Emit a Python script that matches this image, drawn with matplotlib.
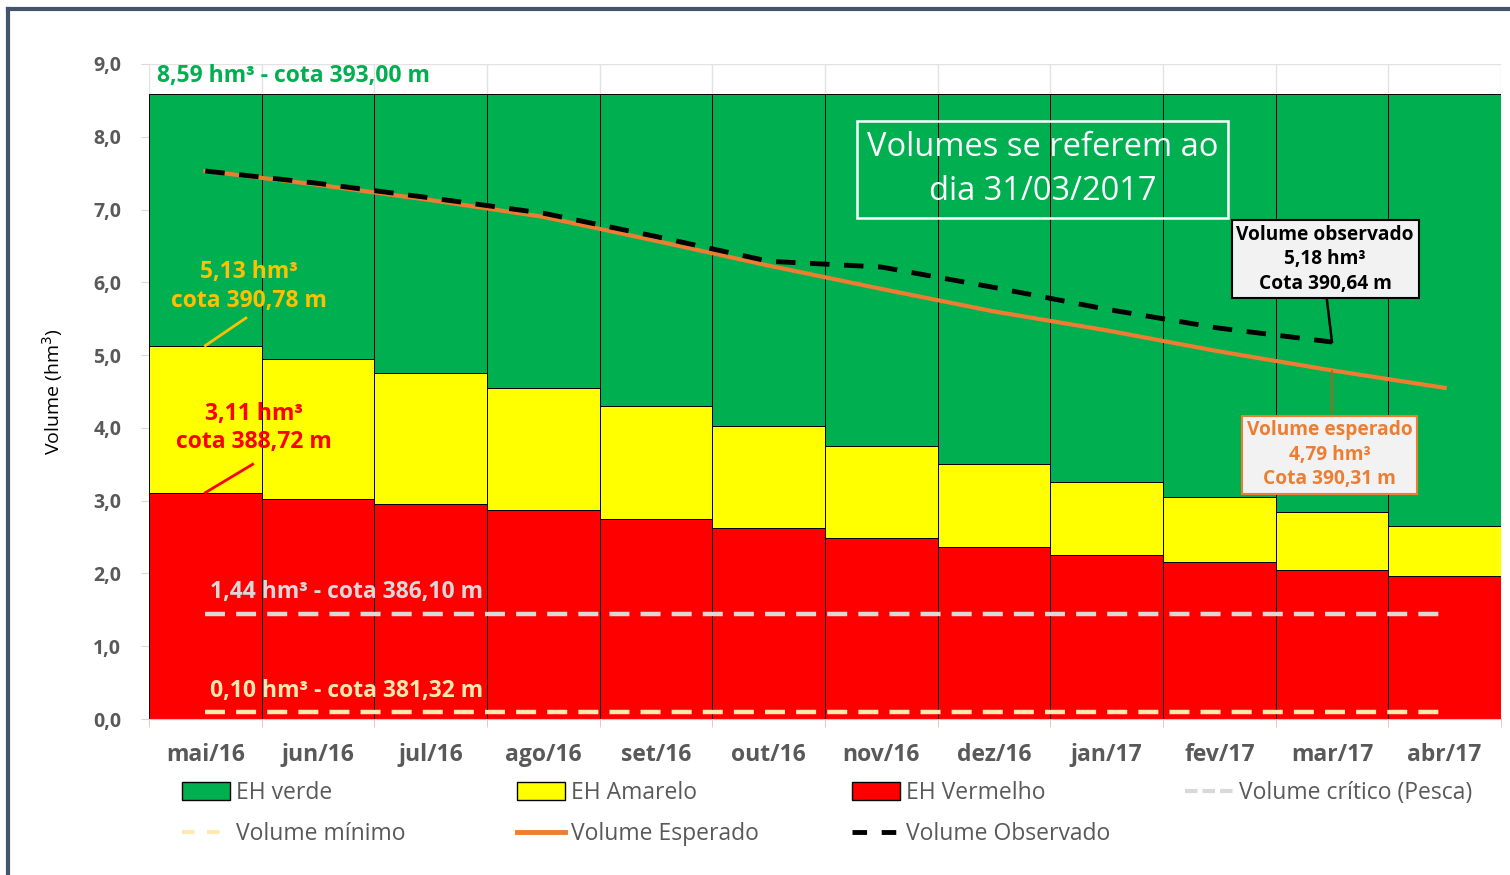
import matplotlib
matplotlib.use("Agg")
import matplotlib.pyplot as plt
from matplotlib.patches import Patch
from matplotlib.lines import Line2D
import numpy as np

meses = ["mai/16", "jun/16", "jul/16", "ago/16", "set/16", "out/16",
         "nov/16", "dez/16", "jan/17", "fev/17", "mar/17", "abr/17"]
lim_vermelho = [3.11, 3.02, 2.95, 2.87, 2.75, 2.62, 2.49, 2.36, 2.25, 2.16, 2.05, 1.96]
lim_amarelo = [5.13, 4.95, 4.75, 4.55, 4.30, 4.02, 3.75, 3.50, 3.26, 3.05, 2.84, 2.65]
lim_verde = [8.59] * 12
vol_esperado = [7.53, 7.34, 7.13, 6.90, 6.57, 6.23, 5.91, 5.60, 5.34, 5.05, 4.79, 4.55]
vol_observado = [7.53, 7.36, 7.16, 6.95, 6.63, 6.29, 6.21, 5.93, 5.63, 5.37, 5.18, np.nan]
vol_critico = [1.44] * 12
vol_minimo = [0.10] * 12
yticks = [0, 1, 2, 3, 4, 5, 6, 7, 8, 9]

plt.rcParams['font.family'] = ['Open Sans', 'DejaVu Sans']

C_GREEN = "#00B050"
C_YELLOW = "#FFFF00"
C_RED = "#FF0000"
C_ORANGE = "#ED7D31"
C_GOLD = "#FFC000"
C_CRIT = "#D9D9D9"
C_MIN = "#FFE9B0"
C_TXT = "#595959"

fig = plt.figure(figsize=(15.10, 8.75), dpi=100)
ax = fig.add_axes([149/1510, 1-719/875, (1501-149)/1510, (719-64)/875])

x = np.arange(len(meses))
red = np.array(lim_vermelho)
yel = np.array(lim_amarelo)
grn = np.array(lim_verde)

ax.bar(x, red, width=1.0, color=C_RED, edgecolor="black", linewidth=0.7, zorder=2)
ax.bar(x, yel - red, bottom=red, width=1.0, color=C_YELLOW, edgecolor="black", linewidth=0.7, zorder=2)
ax.bar(x, grn - yel, bottom=yel, width=1.0, color=C_GREEN, edgecolor="black", linewidth=0.7, zorder=2)

ax.plot(x, vol_critico, color=C_CRIT, lw=3.2, dashes=(4.5, 2.5), zorder=3)
ax.plot(x, vol_minimo, color=C_MIN, lw=3.2, dashes=(4.5, 2.5), zorder=3)
ax.plot(x, vol_esperado, color=C_ORANGE, lw=3.0, zorder=4)
ax.plot(x, vol_observado, color="black", lw=3.5, dashes=(4, 3), zorder=5)

ax.set_xlim(-0.5, 11.5)
ax.set_ylim(0, 9)
ax.set_yticks(yticks)
ax.set_yticklabels([f"{v:.1f}".replace(".", ",") for v in yticks],
                   fontsize=14, fontweight="bold", color=C_TXT)
ax.set_xticks(x)
ax.set_xticklabels(meses, fontsize=16.5, fontweight="bold", color=C_TXT)
ax.set_xticks(np.arange(-0.5, 12, 1), minor=True)
ax.tick_params(axis="x", which="major", length=0, pad=17)
ax.tick_params(axis="x", which="minor", length=6, color="#F4B6B6")
ax.tick_params(axis="y", length=6, color="#D9D9D9", pad=14)
ax.grid(axis="y", color="#E3E3E3", lw=1, zorder=0)
ax.grid(axis="x", which="minor", color="#E3E3E3", lw=1, zorder=0)
ax.set_axisbelow(True)
for s in ["top", "right", "left"]:
    ax.spines[s].set_visible(False)
ax.spines["bottom"].set_color("#F4B6B6")

ax.set_ylabel("Volume (hm$^3$)", fontsize=14, color="black", labelpad=20)

# Annotations
FS_A = 16.5
ax.text(-0.43, 8.84, "8,59 hm³ - cota 393,00 m", color=C_GREEN, fontsize=FS_A,
        fontweight="bold", ha="left", va="center", zorder=6)
ax.text(0.39, 5.94, "5,13 hm³\ncota 390,78 m", color=C_GOLD, fontsize=FS_A,
        fontweight="bold", ha="center", va="center", linespacing=1.25, zorder=6)
ax.plot([0.36, 0.0], [5.51, 5.13], color=C_GOLD, lw=2, zorder=6)
ax.text(0.43, 4.00, "3,11 hm³\ncota 388,72 m", color=C_RED, fontsize=FS_A,
        fontweight="bold", ha="center", va="center", linespacing=1.25, zorder=6)
ax.plot([0.42, 0.0], [3.50, 3.11], color=C_RED, lw=2, zorder=6)
ax.text(0.04, 1.745, "1,44 hm³ - cota 386,10 m", color=C_CRIT, fontsize=FS_A,
        fontweight="bold", ha="left", va="center", zorder=6)
ax.text(0.04, 0.385, "0,10 hm³ - cota 381,32 m", color=C_MIN, fontsize=FS_A,
        fontweight="bold", ha="left", va="center", zorder=6)

ax.text(7.43, 7.555, "Volumes se referem ao\ndia 31/03/2017", color="white", fontsize=23.5,
        ha="center", va="center", linespacing=1.45, zorder=6,
        bbox=dict(boxstyle="square,pad=0.3", fc="none", ec="white", lw=1.8))

ax.plot([9.955, 10.0], [5.755, 5.18], color="black", lw=1.8, zorder=6)
ax.text(9.94, 6.32, "Volume observado\n5,18 hm³\nCota 390,64 m", color="black", fontsize=13.8,
        fontweight="bold", ha="center", va="center", linespacing=1.3, zorder=7,
        bbox=dict(boxstyle="square,pad=0.25", fc="#F2F2F2", ec="black", lw=1.5))

ax.plot([10.0, 10.0], [4.78, 4.20], color="#C55A11", lw=1.2, zorder=6)
ax.text(9.98, 3.63, "Volume esperado\n4,79 hm³\nCota 390,31 m", color=C_ORANGE, fontsize=13.8,
        fontweight="bold", ha="center", va="center", linespacing=1.3, zorder=7,
        bbox=dict(boxstyle="square,pad=0.25", fc="#F2F2F2", ec=C_ORANGE, lw=1.5))

# Legend (four columns placed individually)
h_verde = Patch(fc=C_GREEN, ec="black", lw=1)
h_amar = Patch(fc=C_YELLOW, ec="black", lw=1)
h_verm = Patch(fc=C_RED, ec="black", lw=1)
h_crit = Line2D([], [], color=C_CRIT, lw=3, dashes=(3, 1.2))
h_min = Line2D([], [], color=C_MIN, lw=3, dashes=(3, 3))
h_esp = Line2D([], [], color=C_ORANGE, lw=3.5)
h_obs = Line2D([], [], color="black", lw=3.5, dashes=(3, 3))
cols = [
    ([h_verde, h_min], ["EH verde", "Volume mínimo"], 182),
    ([h_amar, h_esp], ["EH Amarelo", "Volume Esperado"], 517),
    ([h_verm, h_obs], ["EH Vermelho", "Volume Observado"], 852),
    ([h_crit], ["Volume crítico (Pesca)"], 1185),
]
for hs, ls, px in cols:
    lg = fig.legend(hs, ls, loc="upper left", bbox_to_anchor=(px/1510, 1-781/875),
                    frameon=False, fontsize=16.5, handlelength=2.1, handleheight=0.8,
                    handletextpad=0.25, labelspacing=0.75, borderaxespad=0, borderpad=0)
    for t in lg.get_texts():
        t.set_color(C_TXT)

# Outer frame
fig.add_artist(Line2D([8/1510, 8/1510], [0, 1-9/875], color="#44546A", lw=3, transform=fig.transFigure))
fig.add_artist(Line2D([8/1510, 1], [1-9/875, 1-9/875], color="#44546A", lw=3, transform=fig.transFigure))

fig.savefig("out.png", dpi=100)
